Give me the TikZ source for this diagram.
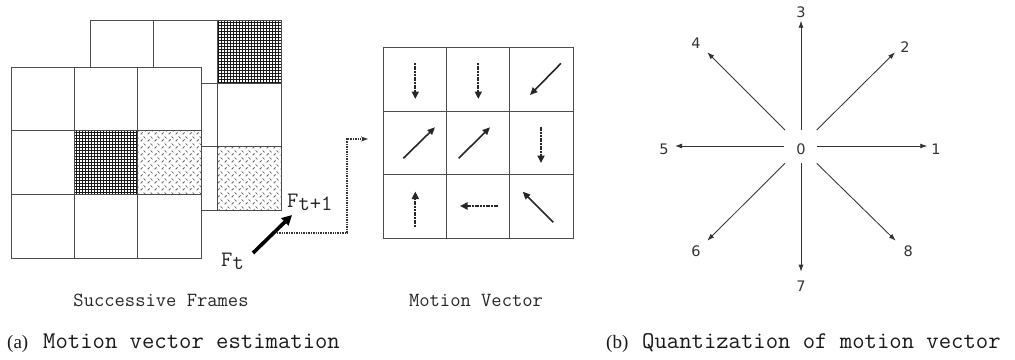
\documentclass[tikz,border=0pt]{standalone}
\usepackage{fontspec}
\setmainfont{Liberation Serif}
\newfontfamily\starfont{DejaVu Sans}
\usetikzlibrary{arrows.meta,patterns}
\pgfdeclarepatternformonly{hatchgrid}{\pgfpointorigin}{\pgfpoint{2.9pt}{2.9pt}}{\pgfpoint{2.9pt}{2.9pt}}{%
  \pgfsetlinewidth{0.75pt}%
  \pgfpathmoveto{\pgfpoint{0pt}{1.45pt}}\pgfpathlineto{\pgfpoint{2.9pt}{1.45pt}}%
  \pgfpathmoveto{\pgfpoint{1.45pt}{0pt}}\pgfpathlineto{\pgfpoint{1.45pt}{2.9pt}}%
  \pgfusepath{stroke}}
\pgfdeclarepatternformonly{plate}{\pgfpointorigin}{\pgfpoint{7pt}{7pt}}{\pgfpoint{7pt}{7pt}}{%
  \pgfsetlinewidth{0.8pt}%
  \pgfpathmoveto{\pgfpoint{0.8pt}{0.8pt}}\pgfpathlineto{\pgfpoint{2.9pt}{2.9pt}}%
  \pgfpathmoveto{\pgfpoint{4.1pt}{6.2pt}}\pgfpathlineto{\pgfpoint{6.2pt}{4.1pt}}%
  \pgfusepath{stroke}}
\begin{document}
\begin{tikzpicture}[x=1pt,y=-1pt,
  gridline/.style={draw=black!70,line width=0.9pt},
  hatchfill/.style={pattern=hatchgrid,pattern color=black!90},
  platefill/.style={pattern=plate,pattern color=black!60},
  mvsolid/.style={draw=black!85,line width=1.6pt,-{Triangle[length=7.5pt,width=6.5pt]}},
  mvdot/.style={draw=black!85,line width=2.2pt,dash pattern=on 2pt off 0.7pt,-{Triangle[length=7.5pt,width=7pt]}},
  bigarrow/.style={draw=black,line width=3.6pt,-{Triangle[length=10pt,width=10pt]}},
  connector/.style={draw=black!80,line width=1.2pt,dash pattern=on 1pt off 0.7pt,-{Stealth[length=7pt,width=5pt]}},
  flab/.style={font=\fontsize{22}{24}\selectfont\ttfamily,inner sep=0pt,text=black!85},
  lab/.style={font=\fontsize{20}{22}\selectfont\ttfamily,inner sep=0pt,text=black!85},
  captext/.style={font=\fontsize{24}{26}\selectfont\ttfamily,inner sep=0pt,text=black!90},
  capsym/.style={font=\fontsize{19}{21}\selectfont,inner sep=0pt,text=black!90},
  star/.style={draw=black!80,line width=0.85pt,-{Latex[length=7pt,width=5pt]}},
  digit/.style={font=\starfont\fontsize{14.5}{16}\selectfont,inner sep=0pt,text=black!80}
]
\useasboundingbox (0,0) rectangle (1015,359);

% ---- back frame (F_{t+1})
\fill[white] (90,20) rectangle (281,210);
\fill[hatchfill] (217.3,20) rectangle (281,83.3);
\fill[platefill] (217.3,146.7) rectangle (281,210);
\draw[gridline] (90,20) rectangle (281,210);
\foreach \x in {153.7,217.3} \draw[gridline] (\x,20) -- (\x,210);
\foreach \y in {83.3,146.7} \draw[gridline] (90,\y) -- (281,\y);

% ---- front frame (F_t)
\fill[white] (11,67) rectangle (201,258);
\fill[hatchfill] (74.3,130.7) rectangle (137.7,194.3);
\fill[platefill] (137.7,130.7) rectangle (201,194.3);
\draw[gridline] (11,67) rectangle (201,258);
\foreach \x in {74.3,137.7} \draw[gridline] (\x,67) -- (\x,258);
\foreach \y in {130.7,194.3} \draw[gridline] (11,\y) -- (201,\y);

% ---- frame labels and arrow
\node[flab,anchor=base west] (ft) at (221,266) {F\raisebox{-3pt}{t}};
\node[flab,anchor=base west] (ft1) at (287,207) {F\raisebox{-3pt}{t+1}};
\coordinate (ftail) at (253,253);
\coordinate (fhead) at (292,215);
\draw[bigarrow] (ftail) -- (fhead);

% ---- connector
\coordinate (c0) at (277,233);
\coordinate (c1) at (347,233);
\coordinate (c2) at (347,139);
\coordinate (c3) at (368,139);
\draw[connector] (c0) -- (c1) -- (c2) -- (c3);

% ---- motion vector grid
\draw[gridline] (383,47.7) rectangle (573,238);
\foreach \x in {446.3,509.7} \draw[gridline] (\x,47.7) -- (\x,238);
\foreach \y in {111,174.5} \draw[gridline] (383,\y) -- (573,\y);

\coordinate (a1s) at (415.3,63); \coordinate (a1e) at (415.3,99);
\coordinate (a2s) at (478.3,63); \coordinate (a2e) at (478.3,99);
\coordinate (a3s) at (561,63.3); \coordinate (a3e) at (530,95);
\coordinate (a4s) at (403.3,158.3); \coordinate (a4e) at (435,127.3);
\coordinate (a5s) at (458.7,158.3); \coordinate (a5e) at (490,127.3);
\coordinate (a6s) at (541,126.7); \coordinate (a6e) at (541,163);
\coordinate (a7s) at (415.3,227); \coordinate (a7e) at (415.3,191.5);
\coordinate (a8s) at (498.3,206); \coordinate (a8e) at (460,206);
\coordinate (a9s) at (553.3,222.3); \coordinate (a9e) at (522.7,191.7);
\draw[mvdot] (a1s) -- (a1e);
\draw[mvdot] (a2s) -- (a2e);
\draw[mvsolid] (a3s) -- (a3e);
\draw[mvsolid] (a4s) -- (a4e);
\draw[mvsolid] (a5s) -- (a5e);
\draw[mvdot] (a6s) -- (a6e);
\draw[mvdot] (a7s) -- (a7e);
\draw[mvdot] (a8s) -- (a8e);
\draw[mvsolid] (a9s) -- (a9e);

% ---- sub labels
\node[lab] (succ) at (161,300) {Successive Frames};
\node[lab] (mv) at (476,300) {Motion Vector};

% ---- captions
\node[capsym,anchor=base west] (capa) at (7,348) {(a)};
\node[captext,anchor=base west] (capat) at (43,348) {Motion vector estimation};
\node[capsym,anchor=base west] (capb) at (606,348) {(b)};
\node[captext,anchor=base west] (capbt) at (642,348) {Quantization of motion vector};

% ---- quantization star
\node[digit] (n0) at (801,149.7) {0};
\node[digit] (n1) at (936,149.7) {1};
\node[digit] (n2) at (905,46.7) {2};
\node[digit] (n3) at (801,12.7) {3};
\node[digit] (n4) at (696,43.3) {4};
\node[digit] (n5) at (664,149.7) {5};
\node[digit] (n6) at (696,251.7) {6};
\node[digit] (n7) at (801,286.7) {7};
\node[digit] (n8) at (908.3,251.7) {8};
\coordinate (s1) at (816.7,146); \coordinate (t1) at (927.3,146);
\coordinate (s2) at (816.7,130); \coordinate (t2) at (895,52.3);
\coordinate (s3) at (801,130);   \coordinate (t3) at (801,20.7);
\coordinate (s4) at (785,130);   \coordinate (t4) at (707.3,52.3);
\coordinate (s5) at (784,146);   \coordinate (t5) at (675,146);
\coordinate (s6) at (785,163.3); \coordinate (t6) at (707.3,240.7);
\coordinate (s7) at (801,163);   \coordinate (t7) at (801,271.7);
\coordinate (s8) at (816.7,163.3); \coordinate (t8) at (895.7,240.7);
\foreach \i in {1,...,8} \draw[star] (s\i) -- (t\i);
\end{tikzpicture}
\end{document}
